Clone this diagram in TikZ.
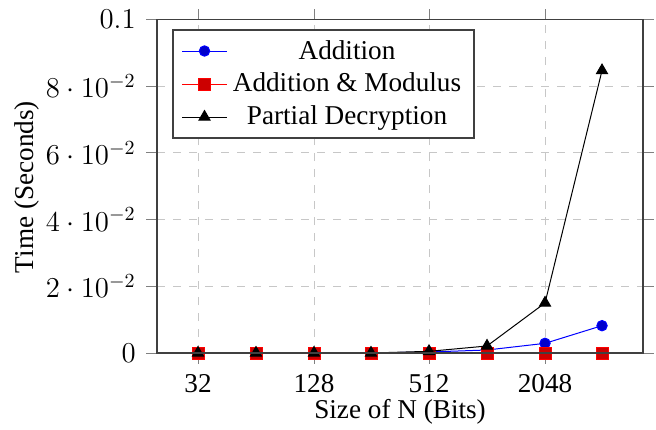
\documentclass[tikz,border=0pt]{standalone}
\usepackage{fontspec}
\setmainfont{Liberation Serif}
\usetikzlibrary{plotmarks}
\begin{document}
\begin{tikzpicture}[x=0.5pt,y=-0.5pt,
  font=\fontsize{13.6}{16}\selectfont,
  gridline/.style={black!22, line width=0.5pt, dash pattern=on 4pt off 4pt},
  tickline/.style={black!50, line width=0.5pt},
  framebox/.style={black!75, line width=0.6pt},
  seriesA/.style={blue, line width=0.5pt, mark=*, mark size=2.6pt,
    mark options={solid, fill=blue!80!black, draw=blue}},
  seriesB/.style={red, line width=0.5pt, mark=square*, mark size=3pt,
    mark options={solid, fill=red!80!black, draw=red}},
  seriesC/.style={black, line width=0.5pt, mark=triangle*, mark size=3.2pt,
    mark options={solid, fill=black, draw=black}},
  ticklabel/.style={inner sep=0pt}]
\useasboundingbox (0,0) rectangle (656,429);

% plot area corners
\coordinate (ll) at (157,353);
\coordinate (ur) at (643,19.5);

% dashed grid
\foreach \gx in {198,314,429,545}
  \draw[gridline] (\gx,353) -- (\gx,19.5);
\foreach \gy in {286.3,219.6,152.9,86.2}
  \draw[gridline] (157,\gy) -- (643,\gy);

% ticks outside the frame
\foreach \gx in {198,314,429,545} {
  \draw[tickline] (\gx,353) -- (\gx,364);
  \draw[tickline] (\gx,19.5) -- (\gx,8.5);
}
\foreach \gy in {353,286.3,219.6,152.9,86.2,19.5} {
  \draw[tickline] (157,\gy) -- (146,\gy);
  \draw[tickline] (643,\gy) -- (654,\gy);
}

% data series (y in seconds, upward)
\begin{scope}[shift={(0,353)}, y=1667.5pt]
  \draw[seriesA] plot coordinates {(198,0) (256,0) (314,0) (371,0)
    (429,0.0003) (487,0.0009) (545,0.0029) (602,0.0082)};
  \draw[seriesB] plot coordinates {(198,0) (256,0) (314,0) (371,0)
    (429,0) (487,0) (545,0) (602,0)};
  \draw[seriesC] plot coordinates {(198,0) (256,0) (314,0) (371,0)
    (429,0.0005) (487,0.0021) (545,0.0150) (602,0.0847)};
\end{scope}

% frame
\draw[framebox] (ll) rectangle (ur);

% x tick labels
\node[ticklabel, anchor=base] (x32) at (198,392) {32};
\node[ticklabel, anchor=base] (x128) at (314,392) {128};
\node[ticklabel, anchor=base] (x512) at (429,392) {512};
\node[ticklabel, anchor=base] (x2048) at (545,392) {2048};

% y tick labels
\node[ticklabel, anchor=east] (y0) at (136,353) {$0$};
\node[ticklabel, anchor=east] (y2) at (136,286.3) {$2\cdot 10^{-2}$};
\node[ticklabel, anchor=east] (y4) at (136,219.6) {$4\cdot 10^{-2}$};
\node[ticklabel, anchor=east] (y6) at (136,152.9) {$6\cdot 10^{-2}$};
\node[ticklabel, anchor=east] (y8) at (136,86.2) {$8\cdot 10^{-2}$};
\node[ticklabel, anchor=east] (y10) at (136,19.5) {$0.1$};

% axis labels
\node[ticklabel, anchor=base] (xlabel) at (400,418) {Size of N (Bits)};
\node[ticklabel, anchor=base, rotate=90] (ylabel) at (33,187) {Time (Seconds)};

% legend
\filldraw[framebox, fill=white] (173,30) rectangle (474,138);
\draw[blue, line width=0.5pt] (182,51) -- (227,51);
\draw[seriesA] plot coordinates {(204.5,51)};
\draw[red, line width=0.5pt] (182,84) -- (227,84);
\draw[seriesB] plot coordinates {(204.5,84)};
\draw[black, line width=0.5pt] (182,117) -- (227,117);
\draw[seriesC] plot coordinates {(204.5,117)};
\node[ticklabel, anchor=base] (legA) at (347,59) {Addition};
\node[ticklabel, anchor=base] (legB) at (347,91.5) {Addition \& Modulus};
\node[ticklabel, anchor=base] (legC) at (347,124.5) {Partial Decryption};
\end{tikzpicture}
\end{document}
